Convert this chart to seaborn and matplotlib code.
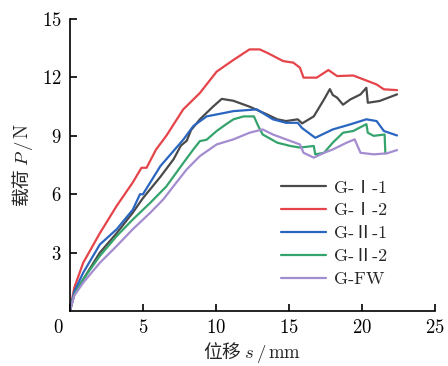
import numpy as np
import pandas as pd
import matplotlib
matplotlib.use("Agg")
import matplotlib.pyplot as plt
import matplotlib.transforms as mtransforms
import seaborn as sns

# ---- data ----
names = ["G-Ⅰ-1", "G-Ⅰ-2", "G-Ⅱ-1", "G-Ⅱ-2", "G-FW"]
colors = ["#4a4a4a", "#e5444a", "#2a66c0", "#35a46c", "#a38ccf"]

s_g1_1 = [0, 0.3, 0.91, 2.05, 3.2, 4.3, 5.0, 6.2, 7.1, 7.6, 8.0, 8.3, 8.9, 9.8, 10.4, 11.2, 12.3, 13.5, 14.2,
          14.8, 15.6, 15.9, 16.7, 17.4, 17.8, 18.0, 18.3, 18.7, 19.2, 19.9, 20.3, 20.4, 21.2, 22.4]
p_g1_1 = [0, 0.85, 1.63, 3.0, 4.0, 5.05, 5.8, 6.9, 7.8, 8.5, 8.75, 9.3, 9.85, 10.5, 10.9, 10.8, 10.5, 10.1, 9.85,
          9.76, 9.85, 9.64, 10.0, 10.87, 11.4, 11.1, 10.96, 10.6, 10.87, 11.13, 11.47, 10.7, 10.79, 11.13]

s_g1_2 = [0, 0.3, 0.91, 2.05, 3.2, 4.3, 4.9, 5.25, 5.9, 6.6, 7.76, 8.9, 10.05, 11.2, 12.3, 13.0, 13.5, 14.6,
          15.3, 15.75, 16.0, 16.9, 17.7, 18.3, 19.4, 20.1, 21.0, 21.5, 22.4]
p_g1_2 = [0, 1.2, 2.48, 4.0, 5.4, 6.6, 7.36, 7.36, 8.3, 9.0, 10.36, 11.2, 12.3, 12.9, 13.44, 13.44, 13.27, 12.84,
          12.76, 12.5, 11.99, 11.99, 12.38, 12.07, 12.1, 11.9, 11.64, 11.39, 11.35]

s_g2_1 = [0, 0.3, 0.91, 2.05, 3.2, 4.3, 4.8, 5.0, 6.2, 7.76, 8.45, 9.36, 10.05, 11.2, 12.8, 13.9, 14.8, 15.6,
          15.9, 16.8, 18.0, 19.2, 20.3, 21.0, 21.5, 22.4]
p_g2_1 = [0, 1.0, 1.97, 3.42, 4.2, 5.2, 6.0, 6.0, 7.45, 8.8, 9.5, 10.0, 10.1, 10.27, 10.36, 9.85, 9.67, 9.67,
          9.4, 8.9, 9.33, 9.59, 9.85, 9.76, 9.25, 9.02]

s_g2_2 = [0, 0.3, 0.91, 2.05, 3.2, 4.3, 5.5, 6.6, 7.76, 8.45, 8.9, 9.36, 10.05, 10.7, 11.2, 11.9, 12.6, 12.9,
          13.2, 14.2, 15.1, 15.75, 16.7, 16.8, 17.4, 18.0, 18.7, 19.4, 20.3, 20.4, 20.8, 21.55, 21.6]
p_g2_2 = [0, 0.85, 1.63, 2.83, 3.85, 4.7, 5.56, 6.4, 7.6, 8.3, 8.73, 8.8, 9.25, 9.6, 9.85, 10.0, 10.0, 9.5,
          9.07, 8.65, 8.48, 8.4, 8.48, 8.05, 8.13, 8.65, 9.16, 9.25, 9.6, 9.16, 9.0, 9.07, 8.1]

s_gfw = [0, 0.3, 0.91, 2.05, 3.2, 4.3, 5.5, 6.4, 7.1, 8.0, 8.9, 10.05, 11.2, 12.3, 13.2, 13.9, 14.8, 15.75,
         16.0, 16.7, 17.4, 18.0, 18.95, 19.5, 19.9, 20.8, 21.7, 22.4]
p_gfw = [0, 0.8, 1.46, 2.48, 3.34, 4.2, 5.05, 5.74, 6.42, 7.28, 7.96, 8.56, 8.82, 9.16, 9.33, 9.07, 8.82, 8.56,
         8.13, 7.88, 8.13, 8.3, 8.65, 8.82, 8.13, 8.05, 8.1, 8.27]

xs = [s_g1_1, s_g1_2, s_g2_1, s_g2_2, s_gfw]
ps = [p_g1_1, p_g1_2, p_g2_1, p_g2_2, p_gfw]

frames = []
for n, x, p in zip(names, xs, ps):
    frames.append(pd.DataFrame({"s": x, "P": p, "series": n}))
df = pd.concat(frames, ignore_index=True)

# ---- style ----
sns.set_theme(style="ticks")
plt.rcParams["font.family"] = ["cmr10", "Noto Sans CJK SC"]
plt.rcParams["mathtext.fontset"] = "cm"
plt.rcParams["axes.formatter.use_mathtext"] = True

fig = plt.figure(figsize=(4.48, 3.66), dpi=100)
ax = fig.add_axes([0.156, 0.150, 0.815, 0.798])

sns.lineplot(data=df, x="s", y="P", hue="series", hue_order=names,
             palette=dict(zip(names, colors)), sort=False, estimator=None,
             units="series", linewidth=1.6, ax=ax)

ax.set_xlim(0, 25)
ax.set_ylim(0, 15)
ax.set_xticks([0, 5, 10, 15, 20, 25])
ax.set_yticks([3, 6, 9, 12, 15])
for sp in ["top", "right"]:
    ax.spines[sp].set_visible(False)
for sp in ["left", "bottom"]:
    ax.spines[sp].set_linewidth(1.2)
    ax.spines[sp].set_color("black")
ax.tick_params(direction="in", length=5, width=1.2, colors="black", labelsize=13.5)
ax.tick_params(axis="x", pad=6)
ax.tick_params(axis="y", pad=6)

# shift "0" label to the corner
lab0 = ax.get_xticklabels()[0]
lab0.set_transform(lab0.get_transform() + mtransforms.ScaledTranslation(-0.12, 0, fig.dpi_scale_trans))

ax.set_xlabel("位移 $s\\,/\\,\\mathrm{mm}$", fontsize=13.5, family="Noto Sans CJK SC", labelpad=2)
ax.set_ylabel("载荷 $P\\,/\\,\\mathrm{N}$", fontsize=13.5, family="Noto Sans CJK SC", labelpad=5)

ax.legend(frameon=False, loc="center left", bbox_to_anchor=(0.627, 0.362),
          bbox_transform=fig.transFigure, handlelength=2.5,
          handletextpad=0.45, labelspacing=0.4, borderpad=0, borderaxespad=0,
          prop={"family": ["cmr10", "Noto Sans CJK SC"], "size": 13})

fig.savefig("out.png", dpi=100)
